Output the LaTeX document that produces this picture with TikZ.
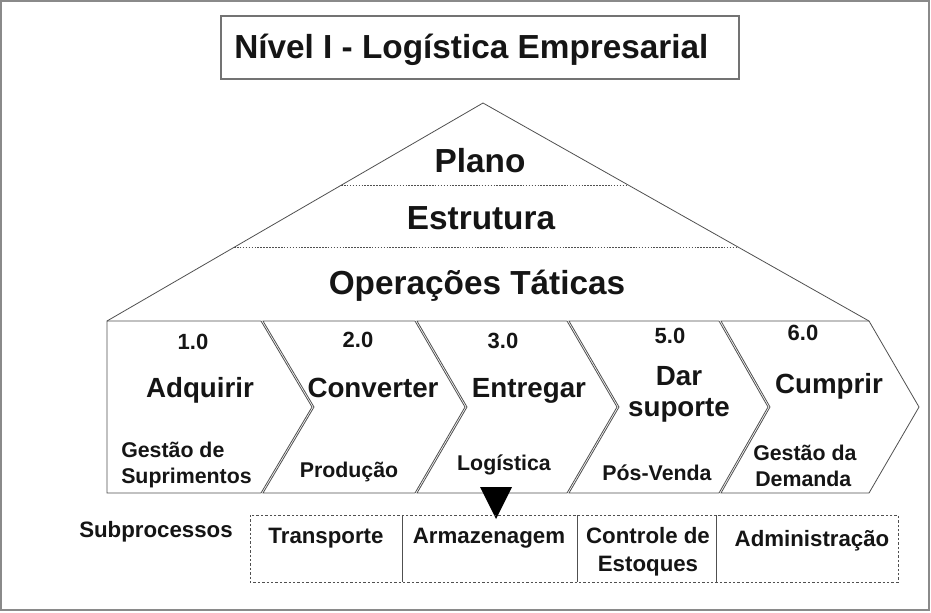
\documentclass[tikz,border=0pt]{standalone}
\usepackage{fontspec}
\setmainfont{Liberation Sans}
\definecolor{linec}{HTML}{505050}
\definecolor{framec}{HTML}{8A8A8A}
\definecolor{txtc}{HTML}{151515}
\tikzset{
  frame/.style={draw=framec, line width=1.6pt},
  titlebox/.style={draw=linec!80, line width=0.8pt},
  pyr/.style={draw=linec, line width=0.6pt},
  dotline/.style={draw=linec, line width=0.5pt, dash pattern=on 1.2pt off 1pt},
  chev/.style={draw=linec, line width=0.6pt, line join=miter},
  dashbox/.style={draw=linec, line width=0.5pt, dash pattern=on 1.8pt off 1.5pt},
  divider/.style={draw=linec, line width=0.6pt},
  tt/.style={inner sep=0pt, text=txtc, font=\fontsize{25}{30}\selectfont\bfseries},
  pyrtxt/.style={inner sep=0pt, anchor=base, text=txtc, font=\fontsize{25}{30}\selectfont\bfseries},
  numtxt/.style={inner sep=0pt, anchor=base, text=txtc, font=\fontsize{16.5}{20}\selectfont\bfseries},
  maintxt/.style={inner sep=0pt, anchor=base, text=txtc, font=\fontsize{20.8}{24}\selectfont\bfseries},
  subtxt/.style={inner sep=0pt, anchor=base, text=txtc, font=\fontsize{16}{19}\selectfont\bfseries},
  sptxt/.style={inner sep=0pt, anchor=base, text=txtc, font=\fontsize{16.7}{20}\selectfont\bfseries},
}
\begin{document}
\begin{tikzpicture}[x=0.75pt,y=-0.75pt]
\useasboundingbox (0,0) rectangle (931,612);
\fill[white] (0,0) rectangle (931,612);
\draw[frame] (1,1) rectangle (929,610);

% title
\draw[titlebox] (221,16) rectangle (739,79);
\node[tt, anchor=base west] (title) at (234,58) {Nível I - Logística Empresarial};

% pyramid
\coordinate (pl) at (107,321);
\coordinate (apex) at (483,103);
\coordinate (pr) at (869,321);
\draw[pyr] (pl) -- (apex) -- (pr);
\coordinate (d1l) at (341,185);
\coordinate (d1r) at (628,185);
\coordinate (d2l) at (234,247);
\coordinate (d2r) at (737,247);
\draw[dotline] (d1l) -- (d1r);
\draw[dotline] (d2l) -- (d2r);
\node[pyrtxt] (plano) at (480,172) {Plano};
\node[pyrtxt] (estr) at (481,229) {Estrutura};
\node[pyrtxt] (oper) at (477,294) {Operações Táticas};

% chevrons
\draw[chev] (107,321) -- (261,321) -- (312,407) -- (261,493) -- (107,493) -- cycle;
\draw[chev] (263,321) -- (415,321) -- (465,407) -- (415,493) -- (263,493) -- (314,407) -- cycle;
\draw[chev] (417,321) -- (567,321) -- (617,407) -- (567,493) -- (417,493) -- (467,407) -- cycle;
\draw[chev] (569,321) -- (719,321) -- (768,407) -- (719,493) -- (569,493) -- (619,407) -- cycle;
\draw[chev] (721,321) -- (869,321) -- (919,407) -- (869,493) -- (721,493) -- (770,407) -- cycle;

% chevron texts
\node[numtxt] (n1) at (193,349) {1.0};
\node[maintxt] (m1) at (200,397) {Adquirir};
\node[subtxt, anchor=base west] (s1a) at (121,457) {Gestão de};
\node[subtxt, anchor=base west] (s1b) at (121,483) {Suprimentos};

\node[numtxt] (n2) at (358,347) {2.0};
\node[maintxt] (m2) at (373,397) {Converter};
\node[subtxt] (s2) at (349,477) {Produção};

\node[numtxt] (n3) at (503,348) {3.0};
\node[maintxt] (m3) at (529,397) {Entregar};
\node[subtxt] (s3) at (504,470) {Logística};

\node[numtxt] (n5) at (670,343) {5.0};
\node[maintxt] (m5a) at (679,385) {Dar};
\node[maintxt] (m5b) at (679,416) {suporte};
\node[subtxt] (s5) at (657,480) {Pós-Venda};

\node[numtxt] (n6) at (803,340) {6.0};
\node[maintxt] (m6) at (829,393) {Cumprir};
\node[subtxt, anchor=base west] (s6a) at (753,460) {Gestão da};
\node[subtxt, anchor=base west] (s6b) at (755,486) {Demanda};

% marker triangle
\fill[black] (480,487) -- (512,487) -- (496,519) -- cycle;

% subprocesses
\node[sptxt] (subp) at (156,537) {Subprocessos};
\draw[dashbox] (250,515) rectangle (898,582);
\draw[divider] (402,515) -- (402,582);
\draw[divider] (577,515) -- (577,582);
\draw[divider] (716,515) -- (716,582);
\node[sptxt] (sp1) at (326,543) {Transporte};
\node[sptxt] (sp2) at (489,543) {Armazenagem};
\node[sptxt] (sp3a) at (648,543) {Controle de};
\node[sptxt] (sp3b) at (648,571) {Estoques};
\node[sptxt] (sp4) at (812,546) {Administração};
\end{tikzpicture}
\end{document}
